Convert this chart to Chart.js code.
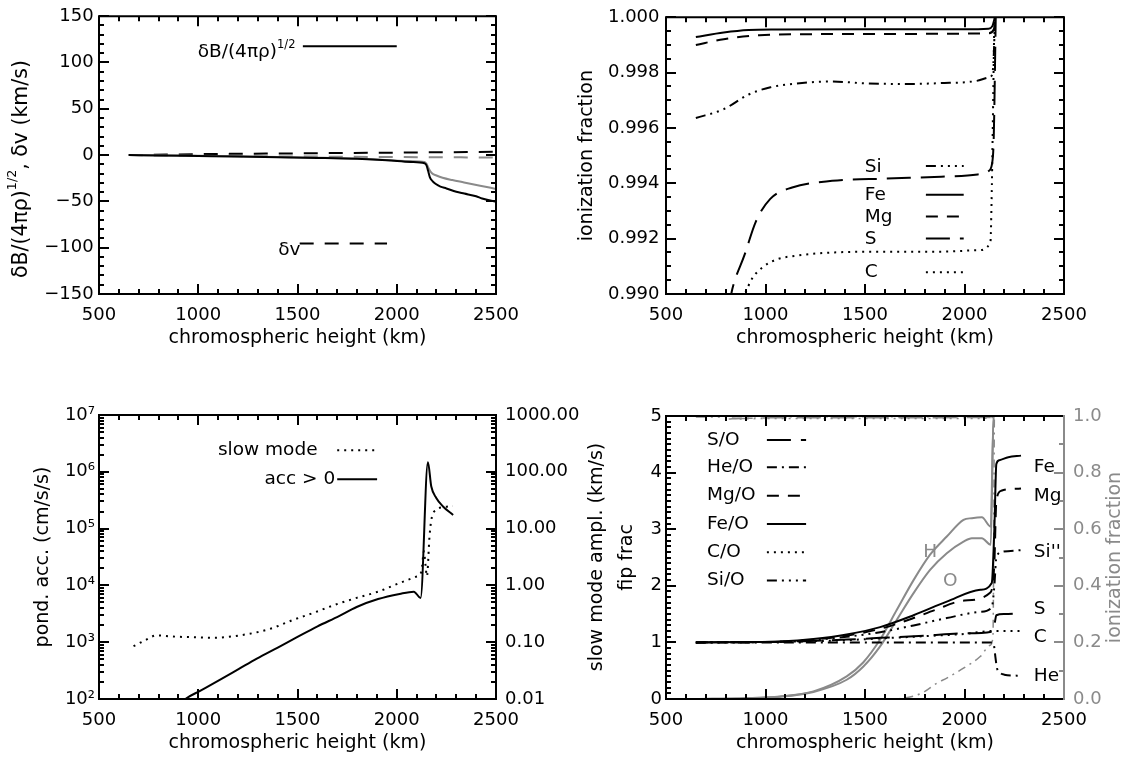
<!DOCTYPE html>
<html>
<head>
<meta charset="utf-8">
<script src="https://cdn.jsdelivr.net/npm/chart.js@4.4.1/dist/chart.umd.min.js"></script>
<style>
    html, body { margin: 0; padding: 0; background: #fff; }
    #wrap { position: relative; width: 1129px; height: 758px; }
    #wrap canvas { position: absolute; left: 0; top: 0; }
</style>
</head>
<body>
<div id="wrap">
    <canvas id="c1" width="1129" height="758"></canvas>
    <canvas id="c2" width="1129" height="758"></canvas>
    <canvas id="c3" width="1129" height="758"></canvas>
    <canvas id="c4" width="1129" height="758"></canvas>
</div>
<script>
// tick labels
const xTicks = [500, 1000, 1500, 2000, 2500];
const ampTicks = [-150, -100, -50, 0, 50, 100, 150];
const ionTicks = [0.990, 0.992, 0.994, 0.996, 0.998, 1.000];
const accTicks = [1e2, 1e3, 1e4, 1e5, 1e6, 1e7];
const slowTicks = [0.01, 0.1, 1, 10, 100, 1000];
const fipTicks = [0, 1, 2, 3, 4, 5];
const fracTicks = [0, 0.2, 0.4, 0.6, 0.8, 1.0];

// panel 1: wave amplitudes (km/s)
const dbX = [650, 800, 1000, 1200, 1400, 1600, 1800, 1950, 2070, 2140, 2150, 2158, 2167, 2180, 2195, 2220, 2250, 2300, 2340, 2400, 2430, 2500];
const dbY = [0, -0.4, -1.0, -1.6, -2.3, -3.0, -4.0, -5.5, -7.4, -8.8, -11, -17, -24, -28, -31, -34, -36, -39.5, -41.5, -44.5, -46.8, -50.5];
const dbGrayX = [650, 1000, 1400, 1800, 2070, 2140, 2150, 2160, 2176, 2200, 2231, 2280, 2339, 2420, 2500];
const dbGrayY = [0, -0.8, -2.0, -3.8, -6.5, -7.4, -9.5, -14, -19.4, -22, -24.5, -27, -29.5, -33, -36.5];
const dvX = [650, 1000, 1500, 2000, 2500];
const dvY = [0, 1.0, 1.9, 2.7, 3.6];
const dvGrayY = [0, -0.8, -1.5, -2.1, -2.6];

// panel 2: ionization fractions
const feIonX = [650, 790, 915, 1060, 1500, 2000, 2120, 2140, 2153];
const feIonY = [0.99929, 0.99945, 0.99954, 0.99956, 0.99957, 0.99957, 0.99959, 0.99968, 1.0];
const mgIonX = [650, 790, 970, 1220, 1700, 2120, 2147, 2157];
const mgIonY = [0.9990, 0.99921, 0.99935, 0.99939, 0.99940, 0.99942, 0.99956, 1.0];
const siIonX = [650, 790, 915, 1025, 1146, 1330, 1510, 1695, 1877, 2060, 2120, 2139, 2147, 2153];
const siIonY = [0.99636, 0.99668, 0.99721, 0.99747, 0.9976, 0.99768, 0.99761, 0.99759, 0.99762, 0.9977, 0.99782, 0.99792, 0.99862, 1.0];
const sIonX = [815, 833, 896, 951, 1024, 1134, 1335, 1609, 1883, 2066, 2120, 2139, 2147, 2157];
const sIonY = [0.9895, 0.99017, 0.99144, 0.99261, 0.99344, 0.99385, 0.99409, 0.99417, 0.99424, 0.99432, 0.99444, 0.99473, 0.99568, 1.0];
const cIonX = [870, 896, 932, 986, 1061, 1151, 1335, 1609, 1883, 2066, 2130, 2136, 2142, 2150];
const cIonY = [0.9896, 0.9900, 0.99055, 0.99097, 0.99126, 0.99138, 0.9915, 0.99153, 0.99153, 0.99158, 0.99185, 0.99332, 0.9960, 1.0];

// panel 3: ponderomotive acceleration (cm/s/s) and slow mode amplitude (km/s)
const accX = [900, 935, 1007, 1115, 1205, 1295, 1403, 1493, 1601, 1709, 1798, 1906, 2014, 2086, 2120, 2157, 2174, 2199, 2233, 2284];
const accY = [76, 100, 138, 224, 339, 513, 813, 1200, 1900, 2880, 4170, 5750, 7080, 7760, 6030, 1480000, 550000, 347000, 245000, 174000];
const slowX = [674, 730, 791, 870, 953, 1079, 1259, 1367, 1475, 1583, 1690, 1798, 1906, 2014, 2095, 2124, 2137, 2145, 2152, 2165, 2174, 2199, 2241, 2283];
const slowY = [0.085, 0.107, 0.132, 0.126, 0.123, 0.120, 0.141, 0.174, 0.245, 0.331, 0.457, 0.603, 0.776, 1.10, 1.41, 1.74, 3.98, 2.24, 1.45, 7.24, 14.1, 21.4, 24.0, 25.1];

// panel 4: fip fractionation
const fipFeX = [650, 900, 1073, 1241, 1408, 1576, 1744, 1911, 2079, 2137, 2150, 2160, 2175, 2220, 2284];
const fipFeY = [1.0, 1.005, 1.017, 1.06, 1.14, 1.27, 1.48, 1.72, 1.93, 2.05, 3.0, 4.15, 4.22, 4.27, 4.30];
const fipMgX = [650, 1073, 1408, 1576, 1744, 1850, 2000, 2130, 2150, 2160, 2185, 2284];
const fipMgY = [1.0, 1.012, 1.12, 1.24, 1.43, 1.57, 1.74, 1.88, 2.4, 3.5, 3.68, 3.72];
const fipSiX = [650, 1073, 1408, 1576, 1744, 1911, 2079, 2137, 2150, 2160, 2190, 2284];
const fipSiY = [1.0, 1.01, 1.1, 1.18, 1.3, 1.43, 1.54, 1.62, 2.0, 2.5, 2.6, 2.63];
const fipSX = [650, 1073, 1408, 1576, 1800, 2000, 2137, 2150, 2160, 2200, 2284];
const fipSY = [1.0, 1.01, 1.05, 1.08, 1.12, 1.16, 1.19, 1.3, 1.48, 1.5, 1.52];
const fipCX = [650, 1073, 1408, 1576, 1800, 2000, 2137, 2150, 2284];
const fipCY = [1.0, 1.01, 1.04, 1.07, 1.11, 1.15, 1.2, 1.2, 1.2];
const fipHeX = [650, 2140, 2148, 2155, 2163, 2180, 2200, 2284];
const fipHeY = [1.0, 1.0, 0.95, 0.75, 0.55, 0.46, 0.43, 0.41];
const hIonX = [650, 900, 1073, 1241, 1408, 1492, 1576, 1660, 1744, 1827, 1911, 1995, 2037, 2087, 2132, 2146, 2500];
const hIonY = [0.0, 0.003, 0.009, 0.027, 0.08, 0.13, 0.21, 0.315, 0.42, 0.51, 0.574, 0.633, 0.639, 0.642, 0.609, 1.0, 1.0];
const oIonX = [650, 900, 1073, 1241, 1408, 1492, 1576, 1660, 1744, 1827, 1911, 1995, 2037, 2087, 2132, 2146, 2500];
const oIonY = [0.0, 0.003, 0.008, 0.025, 0.068, 0.115, 0.186, 0.28, 0.374, 0.456, 0.515, 0.556, 0.568, 0.568, 0.545, 1.0, 1.0];
const heIonX = [1200, 1650, 1700, 1744, 1794, 1861, 1911, 1995, 2079, 2129, 2143, 2150];
const heIonY = [0, 0, 0.004, 0.01, 0.024, 0.056, 0.074, 0.109, 0.15, 0.19, 0.22, 1.0];

const GRAY = '#8a8a8a';
const FONT = "'DejaVu Sans', sans-serif";
const TICK = 18, TITLE = 19, LEG = 18.5;
const X_TITLE = 'chromospheric height (km)';
const DOT = [2, 5], DASH = [12, 9], LONG = [24, 10], DASHDOT = [10, 5, 2, 5], DASH3 = [10, 5, 2, 5, 2, 5, 2, 5];
const SUP = {2: '²', 3: '³', 4: '⁴', 5: '⁵', 6: '⁶', 7: '⁷'};

Chart.defaults.font.family = FONT;
Chart.defaults.font.size = TICK;
Chart.defaults.color = '#000';

function line(xs, ys, extra) {
    return Object.assign({
        data: xs.map((x, i) => ({x: x, y: ys[i]})),
        borderColor: '#000', borderWidth: 2, pointRadius: 0,
        cubicInterpolationMode: 'monotone', fill: false, yAxisID: 'y'
    }, extra);
}

function linTicks(min, max, minor, major) {
    const out = [];
    const n = Math.round((max - min) / minor);
    for (let i = 0; i <= n; i++) {
        const v = min + i * minor;
        const r = v / major;
        out.push([v, Math.abs(r - Math.round(r)) < 1e-6]);
    }
    return out;
}

function logTicks(min, max) {
    const out = [];
    for (let e = Math.floor(Math.log10(min)); e <= Math.ceil(Math.log10(max)); e++) {
        for (let m = 1; m < 10; m++) {
            const v = m * Math.pow(10, e);
            if (v >= min * 0.999 && v <= max * 1.001) out.push([v, m === 1]);
        }
    }
    return out;
}

function drawRich(ctx, parts, x, y, size, rot, align) {
    const f = p => (p.sup ? size * 0.62 : size) + 'px ' + FONT;
    const widths = parts.map(p => { ctx.font = f(p); return ctx.measureText(p.t).width; });
    const total = widths.reduce((s, w) => s + w, 0);
    ctx.save();
    ctx.translate(x, y);
    ctx.rotate(rot);
    ctx.textBaseline = 'middle';
    ctx.textAlign = 'left';
    let cx = align === 'center' ? -total / 2 : (align === 'right' ? -total : 0);
    parts.forEach((p, i) => {
        ctx.font = f(p);
        ctx.fillText(p.t, cx, p.sup ? -size * 0.42 : 0);
        cx += widths[i];
    });
    ctx.restore();
}

// IDL style frame with inward major/minor ticks on every side
function idlAxes(sides, rightColor) {
    return {
        id: 'idlAxes',
        afterDraw(chart) {
            const ctx = chart.ctx, a = chart.chartArea;
            ctx.save();
            ctx.setLineDash([]);
            ctx.lineWidth = 2;
            sides.forEach(s => {
                const sc = chart.scales[s.scale];
                const vals = s.log ? logTicks(sc.min, sc.max) : linTicks(sc.min, sc.max, s.minor, s.major);
                ctx.strokeStyle = s.color || '#000';
                ctx.beginPath();
                vals.forEach(t => {
                    const len = t[1] ? 10 : 5;
                    const p = Math.round(sc.getPixelForValue(t[0]));
                    if (s.side === 'bottom') { ctx.moveTo(p, a.bottom); ctx.lineTo(p, a.bottom - len); }
                    if (s.side === 'top') { ctx.moveTo(p, a.top); ctx.lineTo(p, a.top + len); }
                    if (s.side === 'left') { ctx.moveTo(a.left, p); ctx.lineTo(a.left + len, p); }
                    if (s.side === 'right') { ctx.moveTo(a.right, p); ctx.lineTo(a.right - len, p); }
                });
                ctx.stroke();
            });
            const edge = (x1, y1, x2, y2, c) => {
                ctx.strokeStyle = c;
                ctx.beginPath(); ctx.moveTo(x1, y1); ctx.lineTo(x2, y2); ctx.stroke();
            };
            edge(a.left, a.bottom, a.right, a.bottom, '#000');
            edge(a.left, a.top, a.right, a.top, '#000');
            edge(a.left, a.top - 1, a.left, a.bottom + 1, '#000');
            edge(a.right, a.top - 1, a.right, a.bottom + 1, rightColor || '#000');
            ctx.restore();
        }
    };
}

// legends, curve labels and rotated titles
function notes(items) {
    return {
        id: 'notes',
        afterDatasetsDraw(chart) {
            const ctx = chart.ctx, a = chart.chartArea, scales = chart.scales;
            ctx.save();
            items.forEach(it => {
                const ys = scales[it.axis || 'y'];
                ctx.strokeStyle = ctx.fillStyle = it.color || '#000';
                if (it.seg) {
                    const y = ys.getPixelForValue(it.y);
                    ctx.lineWidth = 2;
                    ctx.setLineDash(it.dash || []);
                    ctx.beginPath();
                    ctx.moveTo(scales.x.getPixelForValue(it.x1), y);
                    ctx.lineTo(scales.x.getPixelForValue(it.x2), y);
                    ctx.stroke();
                    ctx.setLineDash([]);
                } else if (it.vtitle) {
                    const x = (it.from === 'left' ? a.left : a.right) + it.dx;
                    drawRich(ctx, it.parts, x, (a.top + a.bottom) / 2 + (it.dy || 0), it.size || TITLE, -Math.PI / 2, 'center');
                } else {
                    drawRich(ctx, it.parts || [{t: it.text}], scales.x.getPixelForValue(it.x), ys.getPixelForValue(it.y),
                        it.size || LEG, 0, it.align || 'left');
                }
            });
            ctx.restore();
        }
    };
}

function xAxis(h, titlePad) {
    return {
        type: 'linear', min: 500, max: 2500,
        afterBuildTicks: sc => { sc.ticks = xTicks.map(v => ({value: v})); },
        afterFit: sc => { sc.height = h; },
        grid: {display: false, drawTicks: false}, border: {display: false},
        ticks: {padding: 10.5, autoSkip: false, maxRotation: 0, minRotation: 0, callback: v => String(v)},
        title: {display: true, text: X_TITLE, font: {size: TITLE}, padding: {top: 0, bottom: titlePad}}
    };
}

function yAxis(pos, w, vals, fmt, pad, title, titlePad, extra) {
    return Object.assign({
        type: 'linear', position: pos,
        afterBuildTicks: sc => { sc.ticks = vals.map(v => ({value: v})); },
        afterFit: sc => { sc.width = w; },
        grid: {display: false, drawTicks: false}, border: {display: false},
        ticks: {padding: pad, autoSkip: false, callback: fmt},
        title: title ? {display: true, text: title, font: {size: TITLE}, padding: {top: titlePad, bottom: 0}} : {display: false}
    }, extra);
}

function base(padding, scales) {
    return {
        responsive: false, animation: false, events: [],
        layout: {padding: padding},
        scales: scales,
        plugins: {legend: {display: false}, tooltip: {enabled: false}}
    };
}

const xSides = [
    {scale: 'x', side: 'bottom', major: 500, minor: 100},
    {scale: 'x', side: 'top', major: 500, minor: 100}
];

// top left
new Chart(document.getElementById('c1'), {
    type: 'line',
    data: {datasets: [
        line(dbX, dbY),
        line(dbGrayX, dbGrayY, {borderColor: GRAY}),
        line(dvX, dvY, {borderDash: [14, 11]}),
        line(dvX, dvGrayY, {borderColor: GRAY, borderDash: [14, 11]})
    ]},
    options: base({left: 0, top: 12, right: 633, bottom: 404}, {
        x: xAxis(60, 4.6),
        y: yAxis('left', 99, ampTicks, v => (v < 0 ? '\u2212' + Math.abs(v) : String(v)), 5.4, null, 0,
            {min: -150, max: 150})
    }),
    plugins: [
        idlAxes(xSides.concat([
            {scale: 'y', side: 'left', major: 50, minor: 10},
            {scale: 'y', side: 'right', major: 50, minor: 10}
        ])),
        notes([
            {vtitle: true, from: 'left', dx: -77.5, dy: 14, size: 20.5,
                parts: [{t: 'δB/(4πρ)'}, {t: '1/2', sup: true}, {t: ', δv (km/s)'}]},
            {x: 997, y: 111, parts: [{t: 'δB/(4πρ)'}, {t: '1/2', sup: true}]},
            {seg: true, x1: 1527, x2: 2000, y: 117.5},
            {x: 1403, y: -103, text: 'δv'},
            {seg: true, x1: 1511, x2: 1951, y: -95.4, dash: [14, 11]}
        ])
    ]
});

// top right
new Chart(document.getElementById('c2'), {
    type: 'line',
    data: {datasets: [
        line(feIonX, feIonY),
        line(mgIonX, mgIonY, {borderDash: DASH}),
        line(siIonX, siIonY, {borderDash: DASH3}),
        line(sIonX, sIonY, {borderDash: LONG}),
        line(cIonX, cIonY, {borderDash: DOT})
    ]},
    options: base({left: 560, top: 12, right: 65, bottom: 404}, {
        x: xAxis(60, 4.6),
        y: yAxis('left', 106, ionTicks, v => v.toFixed(3), 6.5, 'ionization fraction', 15.6,
            {min: 0.990, max: 1.000})
    }),
    plugins: [
        idlAxes(xSides.concat([
            {scale: 'y', side: 'left', major: 0.002, minor: 0.0005},
            {scale: 'y', side: 'right', major: 0.002, minor: 0.0005}
        ])),
        notes([
            {x: 1499, y: 0.99460, text: 'Si'},
            {seg: true, x1: 1806, x2: 1996, y: 0.99463, dash: DASH3},
            {x: 1499, y: 0.99358, text: 'Fe'},
            {seg: true, x1: 1806, x2: 1996, y: 0.99359},
            {x: 1499, y: 0.99277, text: 'Mg'},
            {seg: true, x1: 1806, x2: 1996, y: 0.99280, dash: DASH},
            {x: 1499, y: 0.99199, text: 'S'},
            {seg: true, x1: 1806, x2: 1996, y: 0.99201, dash: LONG},
            {x: 1499, y: 0.99078, text: 'C'},
            {seg: true, x1: 1806, x2: 1996, y: 0.99079, dash: DOT}
        ])
    ]
});

// bottom left
new Chart(document.getElementById('c3'), {
    type: 'line',
    data: {datasets: [
        line(accX, accY),
        line(slowX, slowY, {borderDash: DOT, yAxisID: 'y2'})
    ]},
    options: base({left: 0, top: 415, right: 533, bottom: 0}, {
        x: xAxis(59, 3.6),
        y: yAxis('left', 99, accTicks, v => '10' + SUP[Math.round(Math.log10(v))], 4, 'pond. acc. (cm/s/s)', 32,
            {type: 'logarithmic', min: 1e2, max: 1e7}),
        y2: yAxis('right', 100, slowTicks, v => v.toFixed(2), 9, null, 0,
            {type: 'logarithmic', min: 0.01, max: 1000})
    }),
    plugins: [
        idlAxes(xSides.concat([
            {scale: 'y', side: 'left', log: true},
            {scale: 'y2', side: 'right', log: true}
        ])),
        notes([
            {vtitle: true, from: 'right', dx: 101, parts: [{t: 'slow mode ampl. (km/s)'}]},
            {x: 1601, y: 2.4e6, text: 'slow mode', align: 'right'},
            {seg: true, x1: 1700, x2: 1898, y: 2.4e6, dash: DOT},
            {x: 1690, y: 7.4e5, text: 'acc > 0', align: 'right'},
            {seg: true, x1: 1700, x2: 1901, y: 7.4e5}
        ])
    ]
});

// bottom right
new Chart(document.getElementById('c4'), {
    type: 'line',
    data: {datasets: [
        line(fipFeX, fipFeY),
        line(fipMgX, fipMgY, {borderDash: DASH}),
        line(fipSiX, fipSiY, {borderDash: DASH3}),
        line(fipSX, fipSY, {borderDash: LONG}),
        line(fipCX, fipCY, {borderDash: DOT}),
        line(fipHeX, fipHeY, {borderDash: DASHDOT}),
        line(hIonX, hIonY, {borderColor: GRAY, yAxisID: 'y2'}),
        line(oIonX, oIonY, {borderColor: GRAY, yAxisID: 'y2'}),
        line(heIonX, heIonY, {borderColor: GRAY, borderWidth: 1.5, borderDash: [8, 5, 2, 5], yAxisID: 'y2'}),
        line(feIonX, feIonY, {borderColor: GRAY, borderWidth: 1.5, yAxisID: 'y2'}),
        line(mgIonX, mgIonY, {borderColor: GRAY, borderWidth: 1.5, borderDash: DASH, yAxisID: 'y2'}),
        line(siIonX, siIonY, {borderColor: GRAY, borderWidth: 1.5, borderDash: DASH3, yAxisID: 'y2'}),
        line(sIonX, sIonY, {borderColor: GRAY, borderWidth: 1.5, borderDash: LONG, yAxisID: 'y2'}),
        line(cIonX, cIonY, {borderColor: GRAY, borderWidth: 1.5, borderDash: DOT, yAxisID: 'y2'})
    ]},
    options: base({left: 600, top: 416, right: 0, bottom: 0}, {
        x: xAxis(59, 3.6),
        y: yAxis('left', 66, fipTicks, v => String(v), 4, 'fip frac', 15.6, {min: 0, max: 5}),
        y2: yAxis('right', 65, fracTicks, v => v.toFixed(1), 9, null, 0,
            {min: 0, max: 1, ticks: {padding: 9, autoSkip: false, color: GRAY, callback: v => v.toFixed(1)}})
    }),
    plugins: [
        idlAxes(xSides.concat([
            {scale: 'y', side: 'left', major: 1, minor: 0.1},
            {scale: 'y2', side: 'right', major: 0.2, minor: 0.1, color: GRAY}
        ]), GRAY),
        notes([
            {vtitle: true, from: 'right', dx: 51, color: GRAY, parts: [{t: 'ionization fraction'}]},
            {x: 706, y: 4.576, text: 'S/O'},
            {seg: true, x1: 1007, x2: 1204, y: 4.576, dash: LONG},
            {x: 706, y: 4.095, text: 'He/O'},
            {seg: true, x1: 1007, x2: 1204, y: 4.095, dash: DASHDOT},
            {x: 706, y: 3.593, text: 'Mg/O'},
            {seg: true, x1: 1007, x2: 1204, y: 3.593, dash: DASH},
            {x: 706, y: 3.094, text: 'Fe/O'},
            {seg: true, x1: 1007, x2: 1204, y: 3.094},
            {x: 706, y: 2.594, text: 'C/O'},
            {seg: true, x1: 1007, x2: 1204, y: 2.594, dash: DOT},
            {x: 706, y: 2.093, text: 'Si/O'},
            {seg: true, x1: 1007, x2: 1204, y: 2.093, dash: DASH3},
            {x: 2348, y: 4.10, text: 'Fe'},
            {x: 2348, y: 3.59, text: 'Mg'},
            {x: 2348, y: 2.59, text: "Si''"},
            {x: 2348, y: 1.59, text: 'S'},
            {x: 2348, y: 1.09, text: 'C'},
            {x: 2348, y: 0.40, text: 'He'},
            {x: 1828, y: 2.59, text: 'H', align: 'center', color: GRAY},
            {x: 1929, y: 2.09, text: 'O', align: 'center', color: GRAY}
        ])
    ]
});
</script>
</body>
</html>
